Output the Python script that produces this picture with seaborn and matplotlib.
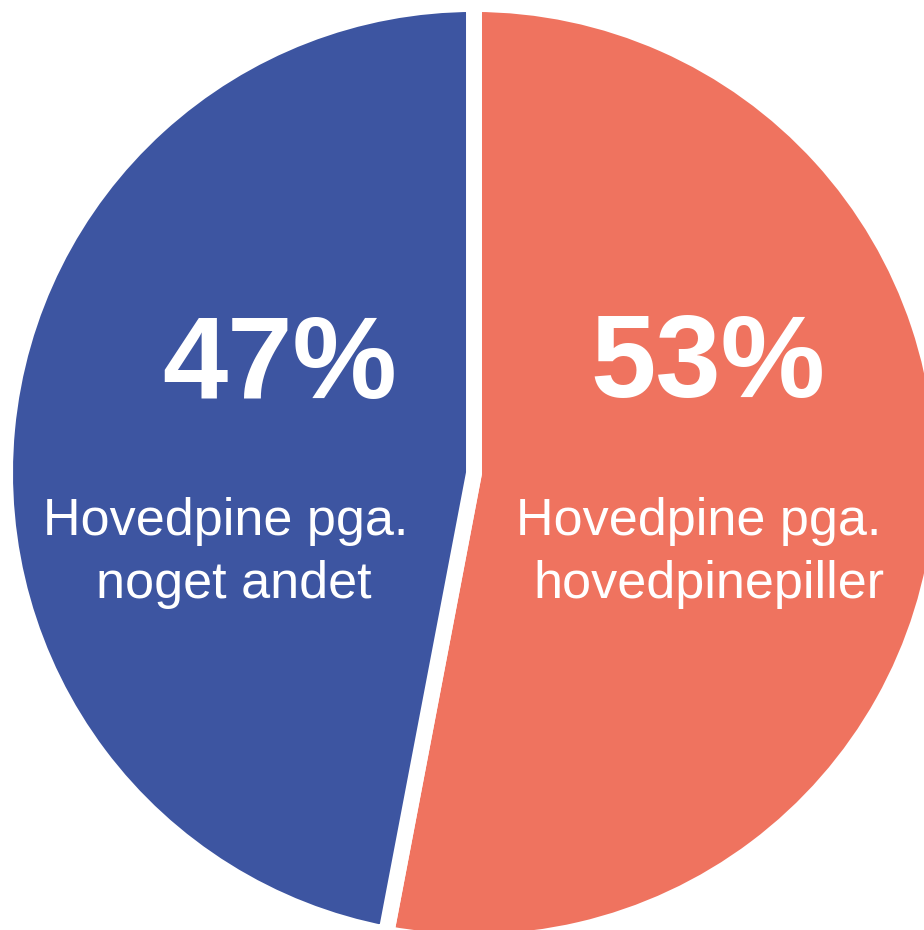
import matplotlib
matplotlib.use("Agg")
import matplotlib.pyplot as plt
import seaborn as sns

# slice data (clockwise from 12 o'clock)
shares = [53, 47]
pct_labels = ["53%", "47%"]
desc_lines = [
    ["Hovedpine pga.", "hovedpinepiller"],
    ["Hovedpine pga.", "noget andet"],
]
colors = sns.color_palette(["#EF735F", "#3D55A1"])

sns.set_style("white")
plt.rcParams["font.family"] = ["Liberation Sans", "DejaVu Sans"]

fig = plt.figure(figsize=(9.24, 9.30), dpi=100)
ax = fig.add_axes([0, 0, 1, 1])

# white edge gives the gap between the slices
ax.pie(shares, colors=colors, startangle=90, counterclock=False, radius=1.0,
       wedgeprops=dict(edgecolor="white", linewidth=11.5, joinstyle="miter"))

# positions of text (data units, 1 unit = pie radius)
pct_pos = [(0.498, 0.162), (-0.414, 0.160)]
line_pos = [
    [(0.479, -0.132), (0.501, -0.2665)],
    [(-0.529, -0.132), (-0.512, -0.2665)],
]

for i in range(len(shares)):
    x, y = pct_pos[i]
    ax.text(x, y, pct_labels[i], color="white", fontsize=84.5,
            fontweight="bold", ha="center", va="baseline")
    for (lx, ly), txt in zip(line_pos[i], desc_lines[i]):
        ax.text(lx, ly, txt, color="white", fontsize=37.5,
                ha="center", va="baseline")

ax.set_xlim(-1.0107, 0.9595)
ax.set_ylim(-0.9744, 1.0085)
ax.set_aspect("auto")
ax.axis("off")

fig.savefig("out.png", dpi=100, facecolor="white")
